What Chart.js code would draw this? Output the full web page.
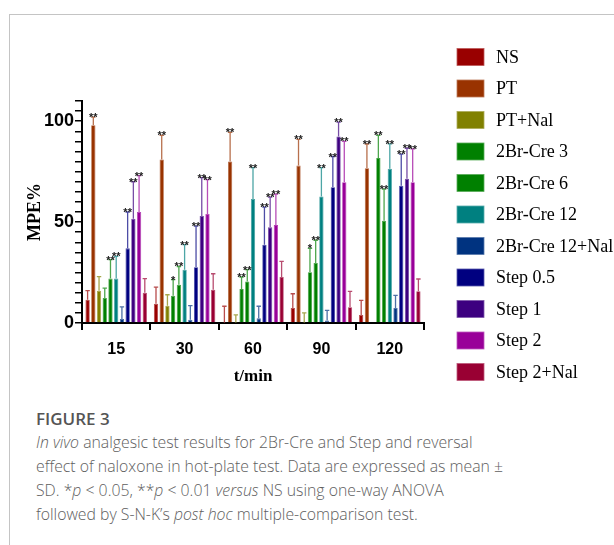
<!DOCTYPE html>
<html>
<head>
<meta charset="utf-8">
<script src="https://cdn.jsdelivr.net/npm/chart.js@4.4.1/dist/chart.umd.min.js"></script>
<style>
  html, body { margin: 0; padding: 0; background: #fff; width: 614px; height: 545px; overflow: hidden; }
  #frame { position: absolute; left: 9px; top: 14px; width: 800px; height: 800px; border: 1.5px solid #c4c4c4; box-sizing: border-box; }
  #wrap { position: absolute; left: 0; top: 0; width: 614px; height: 395px; }
  #caption { position: absolute; left: 36px; top: 409px; width: 560px; font-family: "Open Sans", sans-serif; color: #5e5e5e; white-space: nowrap; }
  #caption .title { font-size: 17px; font-weight: 600; color: #555; line-height: 20px; margin-bottom: 1px; }
  #caption .body { font-size: 15.8px; line-height: 24px; font-weight: 300; }
</style>
</head>
<body>
<div id="frame"></div>
<div id="wrap"><canvas id="c" width="614" height="395"></canvas></div>
<div id="caption">
  <div class="title">FIGURE 3</div>
  <div class="body"><i>In vivo</i> analgesic test results for 2Br-Cre and Step and reversal<br>effect of naloxone in hot-plate test. Data are expressed as mean ±<br>SD. *<i>p</i> &lt; 0.05, **<i>p</i> &lt; 0.01 <i>versus</i> NS using one-way ANOVA<br>followed by S-N-K’s <i>post hoc</i> multiple-comparison test.</div>
</div>
<script>
const categories = ["15", "30", "60", "90", "120"];
const seriesNames = ["NS", "PT", "PT+Nal", "2Br-Cre 3", "2Br-Cre 6", "2Br-Cre 12", "2Br-Cre 12+Nal", "Step 0.5", "Step 1", "Step 2", "Step 2+Nal"];
const colors = ["#990000", "#993300", "#808000", "#008000", "#008000", "#008080", "#003380", "#000080", "#3d0080", "#990099", "#990033"];

const NS        = [11.5, 9.6, 0.3, 7.4, 4];
const PT        = [98, 81, 80, 78, 76.7];
const PTNal     = [16, 8.6, 0.3, 0.3, 0];
const Br3       = [12.4, 13.5, 16.8, 25.2, 81.7];
const Br6       = [22, 19, 20.6, 29.7, 50.7];
const Br12      = [22, 26.4, 61.5, 62.7, 76.4];
const Br12Nal   = [2, 1.6, 2.3, 1.2, 7.4];
const Step05    = [37, 27.6, 38.8, 67.3, 68];
const Step1     = [51.6, 53, 47.4, 92.4, 71.5];
const Step2     = [55, 54, 48.5, 69.8, 69.8];
const Step2Nal  = [15, 16.5, 22.8, 7.8, 15.7];

const sdNS       = [4.5, 8.2, 8, 7.1, 7.2];
const sdPT       = [4, 12, 14.5, 13, 12];
const sdPTNal    = [7, 5.4, 3.7, 4.7, 0];
const sdBr3      = [4.9, 8, 6, 11.8, 11.3];
const sdBr6      = [9.4, 9, 5.8, 11.3, 15.6];
const sdBr12     = [11, 12.4, 15.5, 14.3, 12.4];
const sdBr12Nal  = [6, 7, 6, 5.1, 6.3];
const sdStep05   = [18, 20.4, 18.6, 15.2, 15.7];
const sdStep1    = [18.4, 19, 15, 7.1, 15.1];
const sdStep2    = [18, 17, 15.4, 20.2, 16.5];
const sdStep2Nal = [7, 7.9, 7.7, 7.9, 6.1];

const sigNS       = ["", "", "", "", ""];
const sigPT       = ["**", "**", "**", "**", "**"];
const sigPTNal    = ["", "", "", "", ""];
const sigBr3      = ["", "*", "**", "*", "**"];
const sigBr6      = ["**", "**", "**", "**", "**"];
const sigBr12     = ["**", "**", "**", "**", "**"];
const sigBr12Nal  = ["", "", "", "", ""];
const sigStep05   = ["**", "**", "**", "**", "**"];
const sigStep1    = ["**", "**", "**", "**", "**"];
const sigStep2    = ["**", "**", "**", "**", "**"];
const sigStep2Nal = ["", "", "", "", ""];

const yTickLabels = ["0", "50", "100"];

const values = [NS, PT, PTNal, Br3, Br6, Br12, Br12Nal, Step05, Step1, Step2, Step2Nal];
const sds = [sdNS, sdPT, sdPTNal, sdBr3, sdBr6, sdBr12, sdBr12Nal, sdStep05, sdStep1, sdStep2, sdStep2Nal];
const sigs = [sigNS, sigPT, sigPTNal, sigBr3, sigBr6, sigBr12, sigBr12Nal, sigStep05, sigStep1, sigStep2, sigStep2Nal];

function lighten(hex, f) {
  const n = parseInt(hex.slice(1), 16);
  let r = (n >> 16) & 255, g = (n >> 8) & 255, b = n & 255;
  r = Math.round(r + (255 - r) * f); g = Math.round(g + (255 - g) * f); b = Math.round(b + (255 - b) * f);
  return `rgb(${r},${g},${b})`;
}

const datasets = seriesNames.map((name, i) => ({
  label: name,
  data: values[i],
  sd: sds[i],
  sig: sigs[i],
  backgroundColor: colors[i],
  borderColor: lighten(colors[i], 0.25),
  borderWidth: 0.8,
  categoryPercentage: 0.92,
  barPercentage: 0.75
}));

const errorBars = {
  id: 'errorBars',
  afterDatasetsDraw(chart) {
    const ctx = chart.ctx;
    const y = chart.scales.y;
    chart.data.datasets.forEach((ds, di) => {
      const meta = chart.getDatasetMeta(di);
      meta.data.forEach((el, i) => {
        const v = ds.data[i], s = ds.sd[i];
        const yTop = y.getPixelForValue(v + s);
        ctx.save();
        if (s > 0) {
          ctx.strokeStyle = lighten(colors[di], 0.3);
          ctx.lineWidth = 1.3;
          ctx.beginPath();
          ctx.moveTo(el.x, el.y);
          ctx.lineTo(el.x, yTop);
          ctx.moveTo(el.x - 2.2, yTop);
          ctx.lineTo(el.x + 2.2, yTop);
          ctx.stroke();
        }
        if (ds.sig[i]) {
          ctx.fillStyle = '#222';
          ctx.font = 'bold 11px "Liberation Sans", Arial, sans-serif';
          ctx.textAlign = 'center';
          ctx.textBaseline = 'alphabetic';
          ctx.fillText(ds.sig[i], el.x, yTop + 4);
        }
        ctx.restore();
      });
    });
  }
};

const customLegend = {
  id: 'customLegend',
  afterDraw(chart) {
    const ctx = chart.ctx;
    ctx.save();
    chart.data.datasets.forEach((ds, i) => {
      const cy = 57 + i * 31.5;
      ctx.fillStyle = ds.backgroundColor;
      ctx.fillRect(457, cy - 8.5, 27, 17);
      ctx.strokeStyle = lighten(colors[i], 0.35);
      ctx.lineWidth = 0.8;
      ctx.strokeRect(457, cy - 8.5, 27, 17);
      ctx.fillStyle = '#000';
      ctx.font = '18px "Liberation Serif", "Times New Roman", serif';
      ctx.textAlign = 'left';
      ctx.textBaseline = 'middle';
      ctx.fillText(ds.label, 496, cy + 1);
    });
    ctx.restore();
  }
};

new Chart(document.getElementById('c'), {
  type: 'bar',
  data: { labels: categories, datasets },
  plugins: [errorBars, customLegend],
  options: {
    responsive: false,
    animation: false,
    layout: { padding: { left: 0, right: 190, top: 101, bottom: 0 } },
    plugins: { legend: { display: false }, tooltip: { enabled: false } },
    scales: {
      x: {
        offset: true,
        grid: { display: true, drawOnChartArea: false, drawTicks: true, tickLength: 7, color: '#000', lineWidth: 2 },
        border: { display: true, color: '#000', width: 2 },
        ticks: { color: '#000', padding: 10, font: { family: '"Liberation Sans", Arial, sans-serif', size: 16, weight: 'bold' } },
        title: { display: true, text: 't/min', color: '#000', padding: { top: 0, bottom: 8 }, font: { family: '"Liberation Serif", "Times New Roman", serif', size: 17, weight: 'bold' } },
        afterFit(scale) { scale.height = 72; }
      },
      y: {
        min: 0, max: 110,
        grid: { display: true, drawOnChartArea: false, drawTicks: true, tickLength: 7, color: '#000', lineWidth: 1.5 },
        border: { display: true, color: '#000', width: 2 },
        ticks: {
          stepSize: 5, autoSkip: false, color: '#000', padding: 1,
          font: { family: '"Liberation Sans", Arial, sans-serif', size: 18, weight: 'bold' },
          callback: (v) => yTickLabels.includes(String(v)) ? String(v) : ''
        },
        title: { display: true, text: 'MPE%', color: '#000', padding: { top: 25, bottom: 0 }, font: { family: '"Liberation Serif", "Times New Roman", serif', size: 18, weight: 'bold' } },
        afterFit(scale) { scale.width = 82; }
      }
    }
  }
});
</script>
</body>
</html>
